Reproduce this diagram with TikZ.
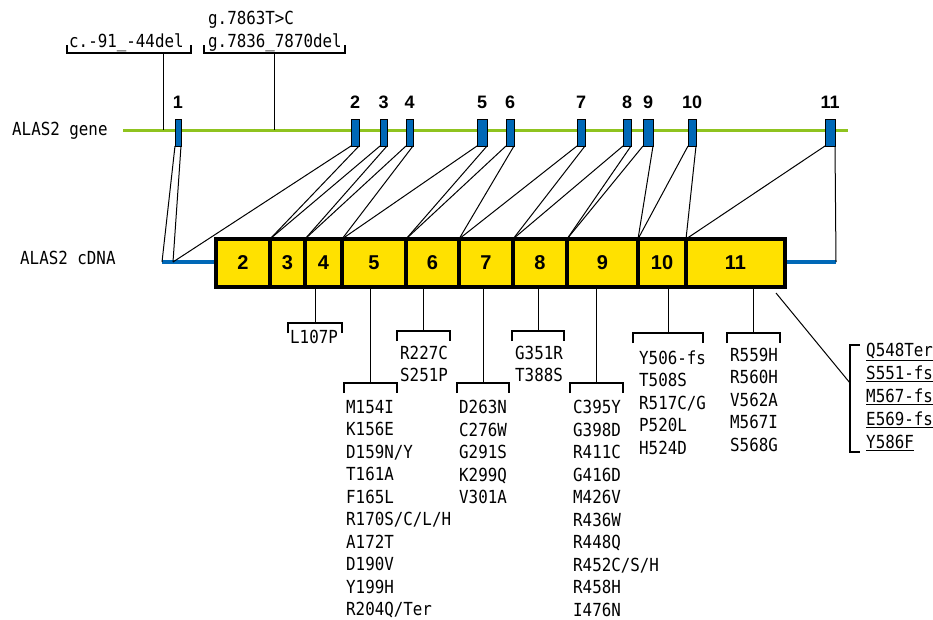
\documentclass[tikz,border=0pt]{standalone}
\usepackage{fontspec}
\newfontfamily\monof{DejaVu Sans Mono}[FakeStretch=0.88]
\newfontfamily\numf{Liberation Sans}
\definecolor{exblue}{HTML}{0068B7}
\definecolor{gngreen}{HTML}{8FC31F}
\definecolor{cyell}{HTML}{FFE100}
\tikzset{
  conn/.style={line width=1pt, black},
  brkline/.style={line width=1.2pt, black},
  exon/.style={draw=black, line width=0.8pt, fill=exblue, minimum height=27pt, inner sep=0pt, outer sep=0pt},
  seg/.style={draw=black, line width=3.5pt, fill=cyell, minimum height=48pt, inner sep=0pt, outer sep=0pt,
    font=\numf\bfseries\fontsize{20}{20}\selectfont},
  exnum/.style={font=\numf\bfseries\fontsize{18}{18}\selectfont, inner sep=0pt, anchor=base},
  mut/.style={font=\monof\fontsize{18}{22.5}\selectfont, align=left, inner sep=0pt, anchor=north west},
  mutu/.style={font=\monof\fontsize{18}{23.2}\selectfont, align=left, inner sep=0pt, anchor=north west},
  lbl/.style={font=\monof\fontsize{18}{22.5}\selectfont, inner sep=0pt, anchor=west},
  pics/dbrk/.style={code={\draw[brkline] (-#1,10) -- (-#1,0) -- (#1,0) -- (#1,10);}},
}
\begin{document}
\begin{tikzpicture}[x=1pt,y=-1pt]
\useasboundingbox (0,0) rectangle (933,619);

% row labels
\node[lbl] (lg) at (12,131) {ALAS2 gene};
\node[lbl] (lc) at (20,258) {ALAS2 cDNA};

% gene line
\coordinate (g0) at (123,130);
\coordinate (g1) at (848,130);
\draw[gngreen, line width=3pt] (g0) -- (g1);

% gene-level mutations
\coordinate (ma) at (163,53);
\coordinate (mb) at (274,53);
\draw[conn] (ma) -- (ma |- g0);
\draw[conn] (mb) -- (mb |- g0);
\draw[brkline] ([shift={(-96,-8)}]ma) -- ([shift={(-96,0)}]ma) -- ([shift={(28,0)}]ma) -- ([shift={(28,-8)}]ma);
\draw[brkline] ([shift={(-70,-8)}]mb) -- ([shift={(-70,0)}]mb) -- ([shift={(71,0)}]mb) -- ([shift={(71,-8)}]mb);
\node[lbl, anchor=base west] (ta) at (69,47) {c.-91\_-44del};
\node[lbl, anchor=base west] (tb) at (208,47) {g.7836\_7870del};
\node[lbl, anchor=base west] (tc) at (208,24) {g.7863T>C};

% exons on the gene
\foreach \n/\a/\b in {1/175/181, 2/351/359, 3/380/387, 4/406/413, 5/477/487, 6/506/514,
                      7/577/585, 8/623/631, 9/643/653, 10/688/696, 11/825/835} {
  \node[exon, minimum width={\b-\a}] (e\n) at ({(\a+\b)/2},132.5) {};
  \node[exnum] (n\n) at ({(\a+\b)/2},108) {\n};
}

% UTR lines of the cDNA
\coordinate (u1) at (162,262);
\coordinate (u2) at (173,262);
\coordinate (u3) at (836,262);
\coordinate (u4) at (216,262);
\coordinate (u5) at (785,262);
\draw[exblue, line width=3.5pt] (u1) -- (u4);
\draw[exblue, line width=3.5pt] (u5) -- (u3);

% cDNA segments
\foreach \n/\a/\b in {2/216/270, 3/270/305, 4/305/342, 5/342/406, 6/406/459,
                      7/459/513, 8/513/567, 9/567/638, 10/638/686, 11/686/785} {
  \node[seg, minimum width={\b-\a}] (c\n) at ({(\a+\b)/2},263) {\n};
}

% connectors gene -> cDNA
\draw[conn] (e1.south west) -- (u1);
\draw[conn] (e1.south east) -- (u2);
\draw[conn] (e2.south west) -- (u2);
\draw[conn] (e2.south east) -- (c2.north east);
\foreach \n in {3,...,10} {
  \draw[conn] (e\n.south west) -- (c\n.north west);
  \draw[conn] (e\n.south east) -- (c\n.north east);
}
\draw[conn] (e11.south west) -- (c11.north west);
\draw[conn] (e11.south east) -- (u3);

% cDNA-level mutation groups
\coordinate (b4) at (315,323);
\coordinate (b5) at (370.5,383);
\coordinate (b6) at (423.5,331);
\coordinate (b7) at (483,383);
\coordinate (b8) at (538,331);
\coordinate (b9) at (596.5,383);
\coordinate (b10) at (668,333);
\coordinate (b11) at (753.5,333);
\draw[conn] (b4 |- c4.south) -- (b4);
\draw[conn] (b5 |- c5.south) -- (b5);
\draw[conn] (b6 |- c6.south) -- (b6);
\draw[conn] (b7 |- c7.south) -- (b7);
\draw[conn] (b8 |- c8.south) -- (b8);
\draw[conn] (b9 |- c9.south) -- (b9);
\draw[conn] (b10 |- c10.south) -- (b10);
\draw[conn] (b11 |- c11.south) -- (b11);
\pic at (b4) {dbrk=27};
\pic at (b5) {dbrk=26.5};
\pic at (b6) {dbrk=26.5};
\pic at (b7) {dbrk=26};
\pic at (b8) {dbrk=26};
\pic at (b9) {dbrk=26.5};
\pic at (b10) {dbrk=35};
\pic at (b11) {dbrk=26.5};

\node[mut] (t4) at (290,329.5) {L107P};
\node[mut] (t5) at (346,400) {M154I\\K156E\\D159N/Y\\T161A\\F165L\\R170S/C/L/H\\A172T\\D190V\\Y199H\\R204Q/Ter};
\node[mut] (t6) at (400,345.5) {R227C\\S251P};
\node[mut] (t7) at (459,400) {D263N\\C276W\\G291S\\K299Q\\V301A};
\node[mut] (t8) at (515,345.5) {G351R\\T388S};
\node[mut] (t9) at (573,400) {C395Y\\G398D\\R411C\\G416D\\M426V\\R436W\\R448Q\\R452C/S/H\\R458H\\I476N};
\node[mut] (t10) at (639,350.5) {Y506-fs\\T508S\\R517C/G\\P520L\\H524D};
\node[mut] (t11) at (730,347.5) {R559H\\R560H\\V562A\\M567I\\S568G};

% 3' group
\coordinate (d0) at (776,293);
\coordinate (d1) at (850,383);
\draw[conn] (d0) -- (d1);
\draw[brkline] ([shift={(10,-38)}]d1) -- ([shift={(0,-38)}]d1) -- ([shift={(0,69)}]d1) -- ([shift={(10,69)}]d1);
\node[mutu] (t12) at (866,342.5) {\underline{Q548Ter}\\\underline{S551-fs}\\\underline{M567-fs}\\\underline{E569-fs}\\\underline{Y586F}};
\end{tikzpicture}
\end{document}
